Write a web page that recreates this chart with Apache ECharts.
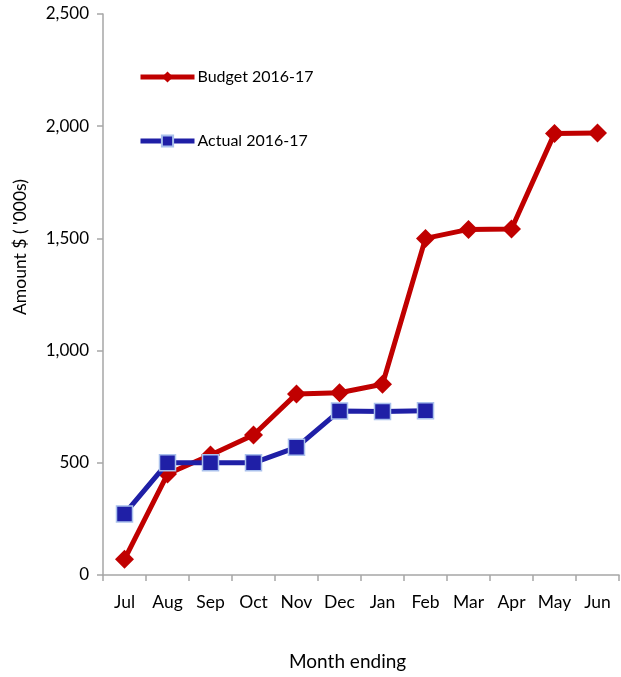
<!DOCTYPE html>
<html><head><meta charset="utf-8">
<script src="https://cdn.jsdelivr.net/npm/echarts@6/dist/echarts.min.js"></script>
<style>html,body{margin:0;padding:0;background:#fff}#c{width:621px;height:677px}</style>
</head><body><div id="c"></div>
<script>
var months = ['Jul','Aug','Sep','Oct','Nov','Dec','Jan','Feb','Mar','Apr','May','Jun'];
var budget = [70, 450, 535, 624, 807, 812, 850, 1500, 1540, 1542, 1968, 1970];
var actual = [272, 500, 500, 500, 569, 731, 729, 732, null, null, null, null];
var yTicks = [0, 500, 1000, 1500, 2000, 2500];

var FONT = 'Lato';
var chart = echarts.init(document.getElementById('c'), null, {renderer: 'canvas'});
chart.setOption({
  animation: false,
  backgroundColor: '#fff',
  textStyle: {fontFamily: FONT},
  grid: {left: 103, right: 2, top: 14, bottom: 102, containLabel: false},
  legend: {
    orient: 'vertical', left: 133, top: 64, itemGap: 48,
    itemWidth: 54, itemHeight: 14,
    lineStyle: {width: 5},
    textStyle: {fontFamily: FONT, fontSize: 16, lineHeight: 14, color: '#000', padding: [0,0,0,-2]},
    data: ['Budget 2016-17', 'Actual 2016-17']
  },
  xAxis: {
    type: 'category', data: months, boundaryGap: true,
    axisLine: {lineStyle: {color: '#a6a6a6', width: 1.5}},
    axisTick: {show: true, inside: false, length: 6, interval: 0, alignWithLabel: false, lineStyle: {color: '#a6a6a6', width: 1.5}},
    axisLabel: {fontFamily: FONT, fontSize: 17.5, color: '#000', margin: 18, interval: 0, hideOverlap: false},
    splitLine: {show: false}
  },
  yAxis: {
    type: 'value', min: yTicks[0], max: yTicks[yTicks.length-1], interval: 500,
    axisLine: {show: true, lineStyle: {color: '#a6a6a6', width: 1.5}},
    axisTick: {show: true, length: 6, lineStyle: {color: '#a6a6a6', width: 1.5}},
    axisLabel: {fontFamily: FONT, fontSize: 17, color: '#000', margin: 14,
      formatter: function(v){ return v.toLocaleString('en-US'); }},
    splitLine: {show: false}
  },
  graphic: [
    {type: 'text', left: 289, top: 652, style: {text: 'Month ending', font: '19px ' + FONT, fill: '#000'}},
    {type: 'text', x: 11, y: 315, rotation: Math.PI/2, style: {text: "Amount $ ( '000s)", font: '17.5px ' + FONT, fill: '#000'}}
  ],
  series: [
    {
      name: 'Budget 2016-17', type: 'line', data: budget,
      symbol: 'diamond', symbolSize: [19, 19],
      lineStyle: {color: '#c00000', width: 5},
      itemStyle: {color: '#c00000', borderWidth: 0},
      z: 2
    },
    {
      name: 'Actual 2016-17', type: 'line', data: actual, connectNulls: false,
      symbol: 'rect', symbolSize: [16, 16],
      lineStyle: {color: '#1f1fa6', width: 5},
      itemStyle: {color: '#1f1fa6', borderColor: '#a9c0ec', borderWidth: 1.5},
      z: 3
    }
  ]
});
</script></body></html>
